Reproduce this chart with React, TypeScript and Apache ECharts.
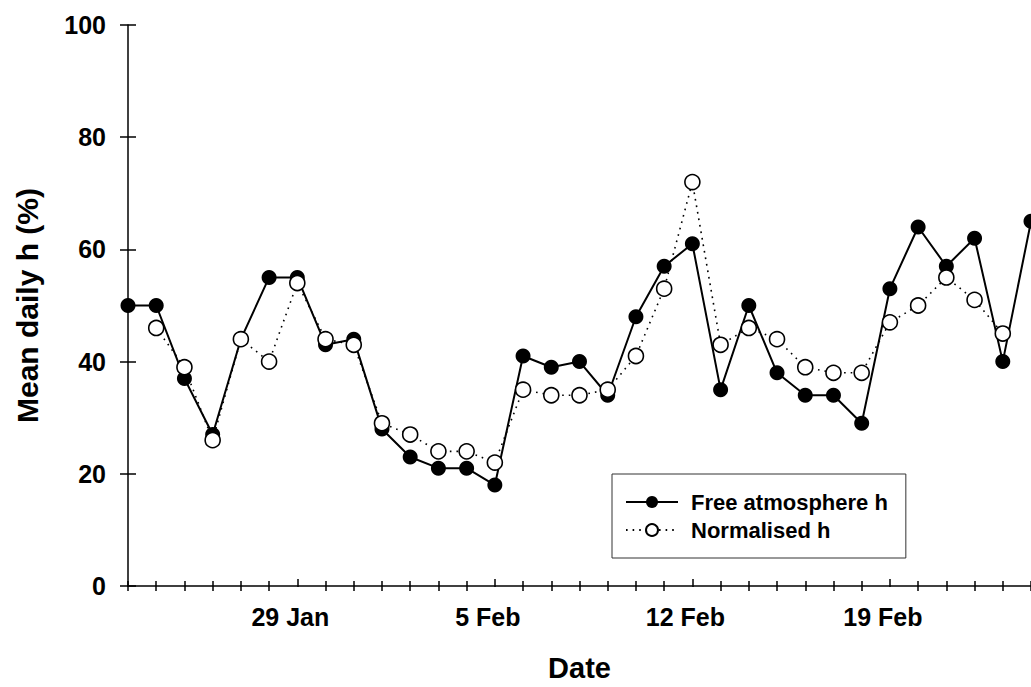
import React, { useEffect, useRef } from "react";
import * as echarts from "echarts";

const categories = [
  "23 Jan", "24 Jan", "25 Jan", "26 Jan", "27 Jan", "28 Jan", "29 Jan", "30 Jan", "31 Jan",
  "1 Feb", "2 Feb", "3 Feb", "4 Feb", "5 Feb", "6 Feb", "7 Feb", "8 Feb", "9 Feb", "10 Feb",
  "11 Feb", "12 Feb", "13 Feb", "14 Feb", "15 Feb", "16 Feb", "17 Feb", "18 Feb", "19 Feb",
  "20 Feb", "21 Feb", "22 Feb", "23 Feb", "24 Feb",
];
const tickLabels = ["29 Jan", "5 Feb", "12 Feb", "19 Feb"];
const freeAtmosphere = [
  50, 50, 37, 27, 44, 55, 55, 43, 44, 28, 23, 21, 21, 18, 41, 39, 40, 34, 48, 57, 61, 35,
  50, 38, 34, 34, 29, 53, 64, 57, 62, 40, 65,
];
const normalised = [
  null, 46, 39, 26, 44, 40, 54, 44, 43, 29, 27, 24, 24, 22, 35, 34, 34, 35, 41, 53, 72, 43,
  46, 44, 39, 38, 38, 47, 50, 55, 51, 45, null,
];
const yMin = 0;
const yMax = 100;
const yInterval = 20;

const FONT = "'Liberation Sans', Arial, Helvetica, sans-serif";

export default function App() {
  const ref = useRef<HTMLDivElement>(null);
  useEffect(() => {
    if (!ref.current) return;
    const chart = echarts.init(ref.current, undefined, { renderer: "svg" });
    const isMajor = (i: number) => tickLabels.includes(categories[i]);
    const gridBox = { left: 128, top: 25, width: 905, height: 561 };
    const axisLineStyle = { color: "#000", width: 1.5 };
    const baseX = {
      type: "category" as const,
      data: categories,
      boundaryGap: false,
      splitLine: { show: false },
    };
    const baseY = {
      type: "value" as const,
      min: yMin,
      max: yMax,
      interval: yInterval,
      splitLine: { show: false },
    };
    chart.setOption({
      animation: false,
      backgroundColor: "#fff",
      grid: [
        { ...gridBox, containLabel: false },
        { ...gridBox, containLabel: false },
        { ...gridBox, containLabel: false },
      ],
      xAxis: [
        {
          ...baseX,
          gridIndex: 0,
          axisLine: { show: true, lineStyle: axisLineStyle },
          axisTick: { show: true, inside: true, length: 5, interval: (i: number) => !isMajor(i), lineStyle: axisLineStyle },
          axisLabel: { show: false },
        },
        {
          ...baseX,
          gridIndex: 1,
          axisLine: { show: false },
          axisTick: { show: true, inside: false, length: 5, interval: (i: number) => !isMajor(i), lineStyle: axisLineStyle },
          axisLabel: { show: false },
        },
        {
          ...baseX,
          gridIndex: 2,
          axisLine: { show: false },
          axisTick: { show: true, inside: false, length: 8, interval: (i: number) => isMajor(i), lineStyle: axisLineStyle },
          axisLabel: {
            show: true,
            interval: (i: number) => isMajor(i),
            margin: 25,
            padding: [0, 14, 0, 0],
            color: "#000",
            fontFamily: FONT,
            fontWeight: "bold",
            fontSize: 25,
          },
          name: "Date",
          nameLocation: "middle",
          nameGap: 74,
          nameTextStyle: { color: "#000", fontFamily: FONT, fontWeight: "bold", fontSize: 29 },
        },
      ],
      yAxis: [
        {
          ...baseY,
          gridIndex: 0,
          axisLine: { show: true, lineStyle: axisLineStyle },
          axisTick: { show: true, inside: false, length: 8, lineStyle: axisLineStyle },
          axisLabel: {
            show: true,
            margin: 22,
            color: "#000",
            fontFamily: FONT,
            fontWeight: "bold",
            fontSize: 25,
          },
          name: "Mean daily h (%)",
          nameLocation: "middle",
          nameGap: 86,
          nameTextStyle: { color: "#000", fontFamily: FONT, fontWeight: "bold", fontSize: 30 },
        },
        {
          ...baseY,
          gridIndex: 1,
          axisLine: { show: false },
          axisTick: { show: true, inside: true, length: 8, lineStyle: axisLineStyle },
          axisLabel: { show: false },
        },
        {
          ...baseY,
          gridIndex: 2,
          show: false,
        },
      ],
      legend: {
        data: ["Free atmosphere h", "Normalised h"],
        orient: "vertical",
        left: 612,
        top: 474,
        padding: [17, 18, 17, 13],
        itemWidth: 52,
        itemHeight: 15,
        itemGap: 6,
        borderColor: "#333",
        borderWidth: 1,
        backgroundColor: "#fff",
        textStyle: {
          color: "#000",
          fontFamily: FONT,
          fontWeight: "bold",
          fontSize: 22,
          padding: [0, 0, 0, 8],
        },
      },
      series: [
        {
          name: "Free atmosphere h",
          type: "line",
          xAxisIndex: 0,
          yAxisIndex: 0,
          data: freeAtmosphere,
          symbol: "circle",
          symbolSize: 15,
          clip: false,
          lineStyle: { color: "#000", width: 2, type: "solid" },
          itemStyle: { color: "#000", borderColor: "#000", borderWidth: 0 },
          z: 2,
        },
        {
          name: "Normalised h",
          type: "line",
          xAxisIndex: 0,
          yAxisIndex: 0,
          data: normalised,
          symbol: "circle",
          symbolSize: 15,
          clip: false,
          lineStyle: { color: "#000", width: 1.6, type: [1.6, 5] },
          itemStyle: { color: "#fff", borderColor: "#000", borderWidth: 1.6 },
          z: 3,
        },
      ],
    });
    return () => chart.dispose();
  }, []);
  return (
    <div
      ref={ref}
      style={{ position: "fixed", left: 0, top: 0, width: 1031, height: 687, background: "#fff" }}
    />
  );
}
